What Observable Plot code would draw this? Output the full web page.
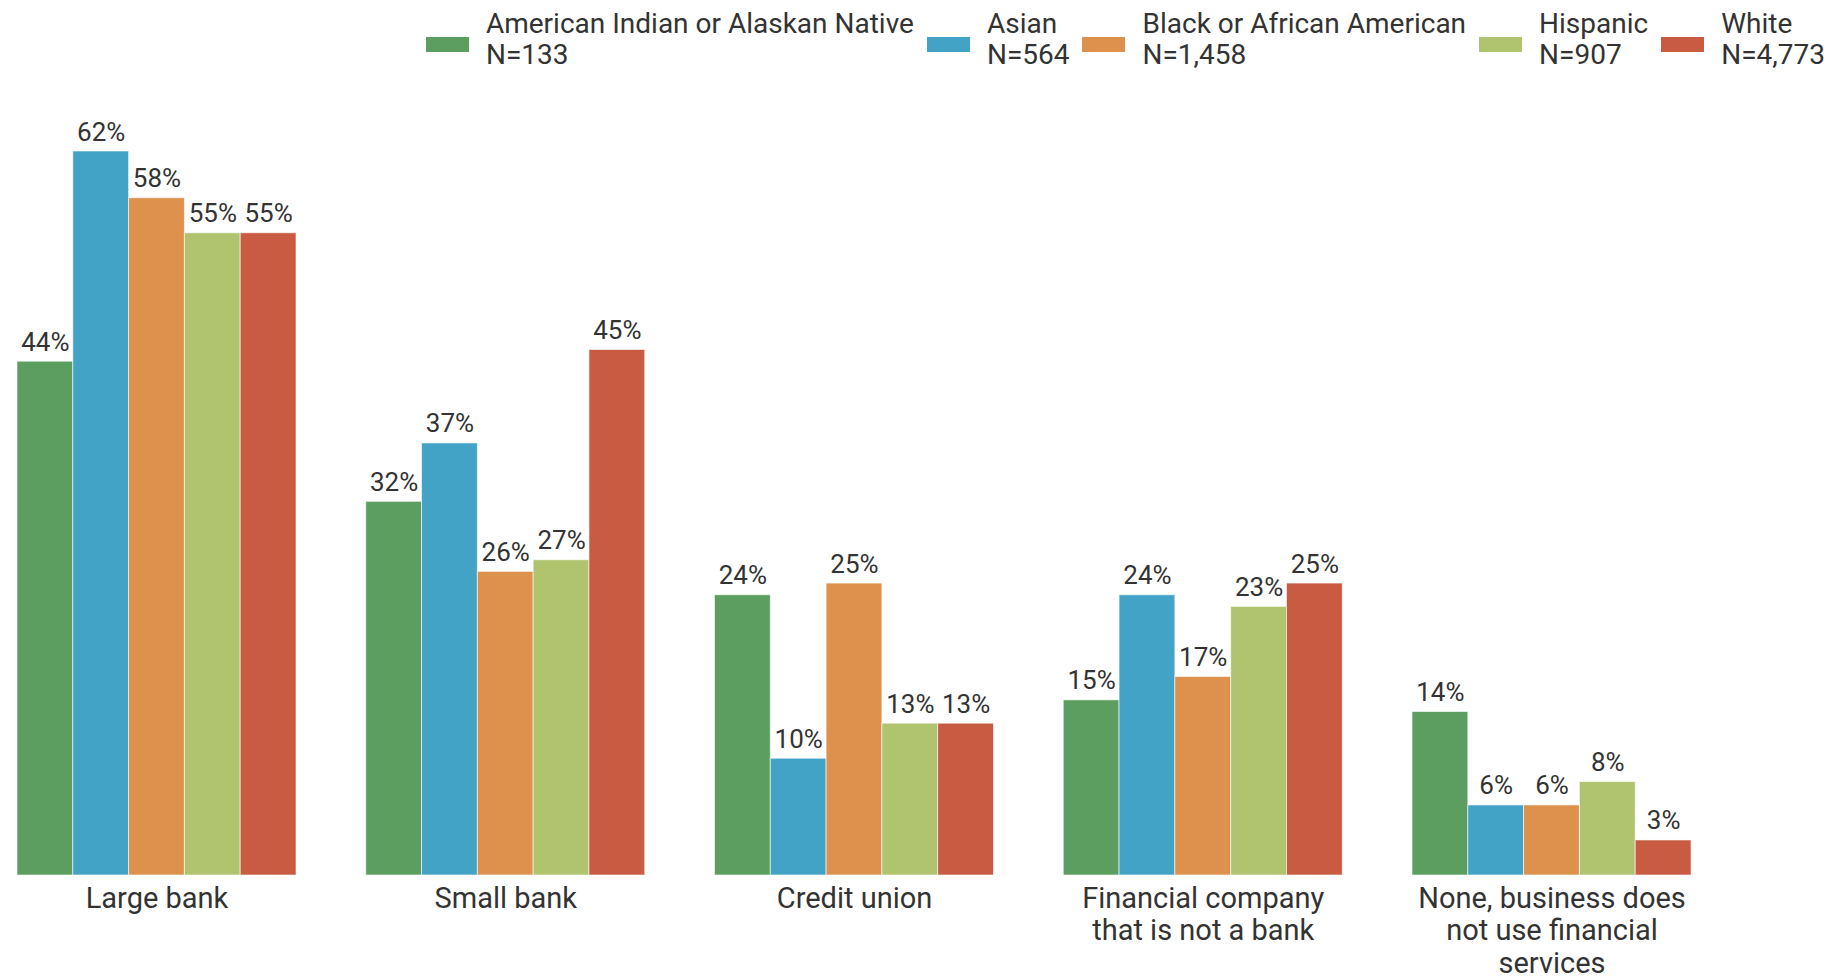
<!DOCTYPE html>
<html>
<head>
<meta charset="utf-8">
<script src="https://cdn.jsdelivr.net/npm/d3@7"></script>
<script src="https://cdn.jsdelivr.net/npm/@observablehq/plot@0.6"></script>
<style>
  html, body { margin: 0; padding: 0; background: #fff; }
  body { width: 1832px; height: 977px; overflow: hidden; font-family: Roboto, "Noto Sans", sans-serif; }
  #legend { height: 80px; box-sizing: border-box; padding-top: 8px; padding-right: 7px;
            display: flex; justify-content: flex-end; align-items: flex-start; color: #333; }
  .item { display: flex; align-items: center; margin-left: 13px; }
  .sw { width: 43px; height: 15px; margin-right: 17px; position: relative; top: 5px; flex: none; }
  .lab { font-size: 28px; line-height: 31px; white-space: nowrap; }
</style>
</head>
<body>
<div id="legend"></div>
<div id="chart"></div>
<script>
// ---- data ----
const categories = [
  "Large bank",
  "Small bank",
  "Credit union",
  "Financial company\nthat is not a bank",
  "None, business does\nnot use financial\nservices"
];
const groups = ["American Indian or Alaskan Native", "Asian", "Black or African American", "Hispanic", "White"];
const groupN = ["N=133", "N=564", "N=1,458", "N=907", "N=4,773"];
const colors = ["#5b9e60", "#42a3c7", "#de904d", "#b0c46f", "#c85b41"];

const americanIndian = [44, 32, 24, 15, 14];
const asian          = [62, 37, 10, 24, 6];
const black          = [58, 26, 25, 17, 6];
const hispanic       = [55, 27, 13, 23, 8];
const white          = [55, 45, 13, 25, 3];
const seriesValues = [americanIndian, asian, black, hispanic, white];

// ---- table ----
const data = [];
categories.forEach((c, ci) => {
  groups.forEach((g, gi) => {
    data.push({category: c, group: g, value: seriesValues[gi][ci]});
  });
});

// ---- legend ----
const legend = document.getElementById("legend");
groups.forEach((g, i) => {
  const item = document.createElement("div");
  item.className = "item";
  const sw = document.createElement("div");
  sw.className = "sw";
  sw.style.background = colors[i];
  const lab = document.createElement("div");
  lab.className = "lab";
  lab.innerHTML = g + "<br>" + groupN[i];
  item.appendChild(sw);
  item.appendChild(lab);
  legend.appendChild(item);
});

// ---- chart ----
const chart = Plot.plot({
  width: 1832,
  height: 897,
  marginLeft: 17,
  marginRight: 141,
  marginTop: 71,
  marginBottom: 102,
  style: {fontFamily: "Roboto, sans-serif", color: "#333", background: "white"},
  fx: {domain: categories, paddingInner: 0.2, paddingOuter: 0, round: false, label: null},
  x: {domain: groups, paddingInner: 0, paddingOuter: 0, round: false, axis: null},
  y: {domain: [0, 62], axis: null},
  color: {domain: groups, range: colors},
  marks: [
    Plot.barY(data, {fx: "category", x: "group", y: "value", fill: "group",
      stroke: "white", strokeOpacity: 0.6, strokeWidth: 1, inset: 0}),
    Plot.text(data, {fx: "category", x: "group", y: "value", text: d => d.value + "%",
      lineAnchor: "bottom", dy: -11, fontSize: 26, fill: "#333"}),
    Plot.axisFx({anchor: "bottom", tickSize: 0, tickPadding: 9, fontSize: 29, lineHeight: 1.12,
      label: null, fill: "#333"})
  ]
});
document.getElementById("chart").appendChild(chart);
</script>
</body>
</html>
